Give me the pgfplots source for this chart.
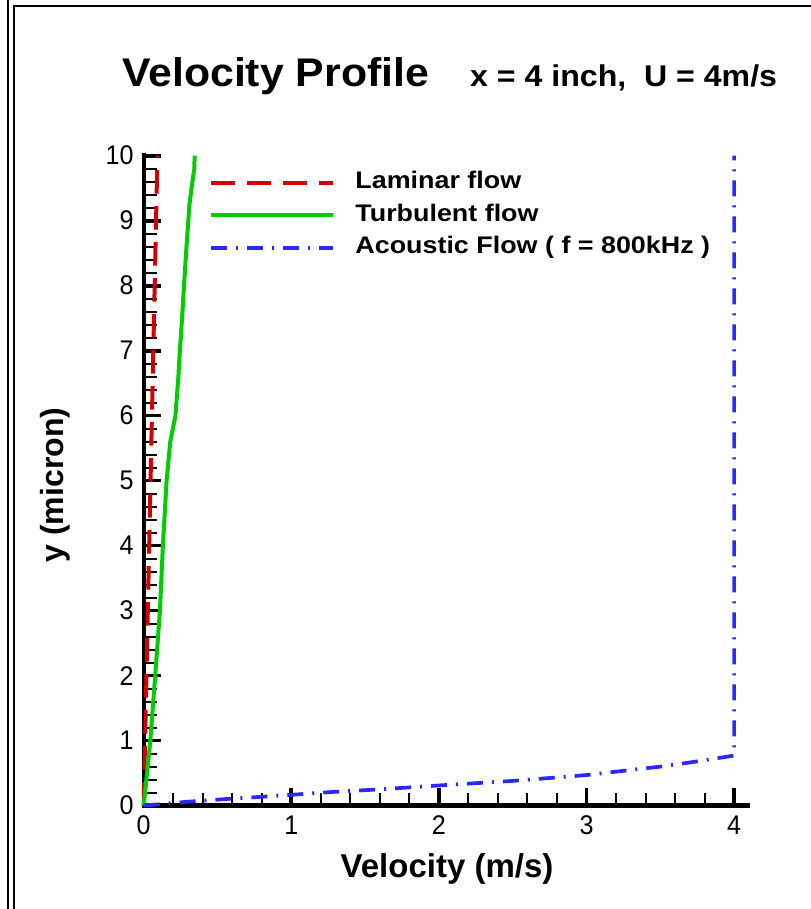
\documentclass[border=0pt]{standalone}
\usepackage{fontspec}
\setmainfont{Liberation Sans}
\newfontfamily\titlefont{Liberation Sans}[FakeStretch=1.07]
\newfontfamily\legfont{Liberation Sans}[FakeStretch=1.12]
\newfontfamily\ticfont{Liberation Sans}[FakeStretch=0.93]
\usepackage{pgfplots}
\pgfplotsset{compat=1.18}

\definecolor{lamred}{RGB}{210,0,0}
\definecolor{turbgreen}{RGB}{0,204,0}
\definecolor{acblue}{RGB}{40,40,255}

\begin{document}
\begin{tikzpicture}[x=1bp,y=1bp]
\path[use as bounding box] (0,0) rectangle (811,909);
% page frame
\draw[line width=2bp] (8,0) -- (8,909);
\draw[line width=2bp] (14,0) -- (14,903) -- (811,903);
% title
\node[anchor=base west, inner sep=0pt, font=\titlefont\bfseries\fontsize{40bp}{48bp}\selectfont] at (122,822) {Velocity Profile};
\node[anchor=base west, inner sep=0pt, font=\titlefont\bfseries\fontsize{30bp}{36bp}\selectfont] at (470,822) {x = 4 inch,\ \ U = 4m/s};

\begin{axis}[
  at={(143.7bp,103.4bp)}, anchor=south west,
  scale only axis, width=603.7bp, height=649.9bp,
  xmin=0, xmax=4.09, ymin=0, ymax=10,
  axis x line*=bottom, axis y line*=left,
  xtick pos=bottom, ytick pos=left,
  axis line style={-, line width=4.4bp, line cap=rect, black},
  tick align=inside,
  xtick={0,1,2,3,4}, ytick={0,1,...,10},
  minor tick num=4,
  major tick length=17.5bp, minor tick length=13bp,
  major tick style={line width=3.7bp, black},
  minor tick style={line width=2bp, black},
  /pgf/number format/assume math mode=true,
  ticklabel style={font=\ticfont\fontsize{27bp}{32bp}\selectfont},
  xticklabel style={anchor=north, inner sep=0pt, yshift=-10bp},
  yticklabel style={anchor=east, inner sep=0pt, xshift=-10bp},
  clip=false,
  legend cell align=left,
  legend image code/.code={\draw[#1] (0bp,0bp) -- (122bp,0bp);},
  legend style={draw=none, fill=none, at={(rel axis cs:0.1085,0.9757)}, anchor=north west,
    inner sep=0pt, row sep=10bp,
    font=\legfont\bfseries\fontsize{24bp}{29bp}\selectfont,
    nodes={inner sep=0pt, text height=17bp, text depth=5.5bp},
    /tikz/every odd column/.append style={column sep=20bp}},
]
% laminar boundary layer (Blasius, near-wall part)
\addplot[lamred, line width=4bp, dash pattern=on 23.5bp off 12.5bp] coordinates {
  (0,0) (0.0093,1) (0.0186,2) (0.0279,3) (0.0372,4) (0.0465,5)
  (0.0558,6) (0.0651,7) (0.0744,8) (0.0837,9) (0.093,10)};
\addlegendentry{Laminar flow}
% turbulent boundary layer
\addplot[turbgreen, line width=4bp] coordinates {
  (0,0) (0.045,1) (0.078,2) (0.11,3) (0.13,4) (0.155,5) (0.18,5.6)
  (0.215,6) (0.235,6.6) (0.245,7) (0.26,7.5) (0.273,8) (0.29,8.6)
  (0.31,9.25) (0.33,9.6) (0.343,9.8) (0.345,10)};
\addlegendentry{Turbulent flow}
% acoustic streaming layer
\addplot[acblue, line width=3.7bp, dash pattern=on 16bp off 9bp on 2bp off 9bp] coordinates {
  (0,0) (0.3,0.06) (0.55,0.1) (0.9,0.15) (1.28,0.21) (1.6,0.25) (2,0.31)
  (2.5,0.38) (3,0.47) (3.5,0.6) (3.75,0.68) (4,0.77) (4,10)};
\addlegendentry{Acoustic Flow ( f = 800kHz )}
\end{axis}

% axis titles
\node[anchor=base, rotate=90, inner sep=0pt, font=\bfseries\fontsize{32bp}{38bp}\selectfont] at (63,424) {y (micron)};
\node[anchor=base, inner sep=0pt, font=\bfseries\fontsize{33bp}{40bp}\selectfont] at (447,31) {Velocity (m/s)};
\end{tikzpicture}
\end{document}
